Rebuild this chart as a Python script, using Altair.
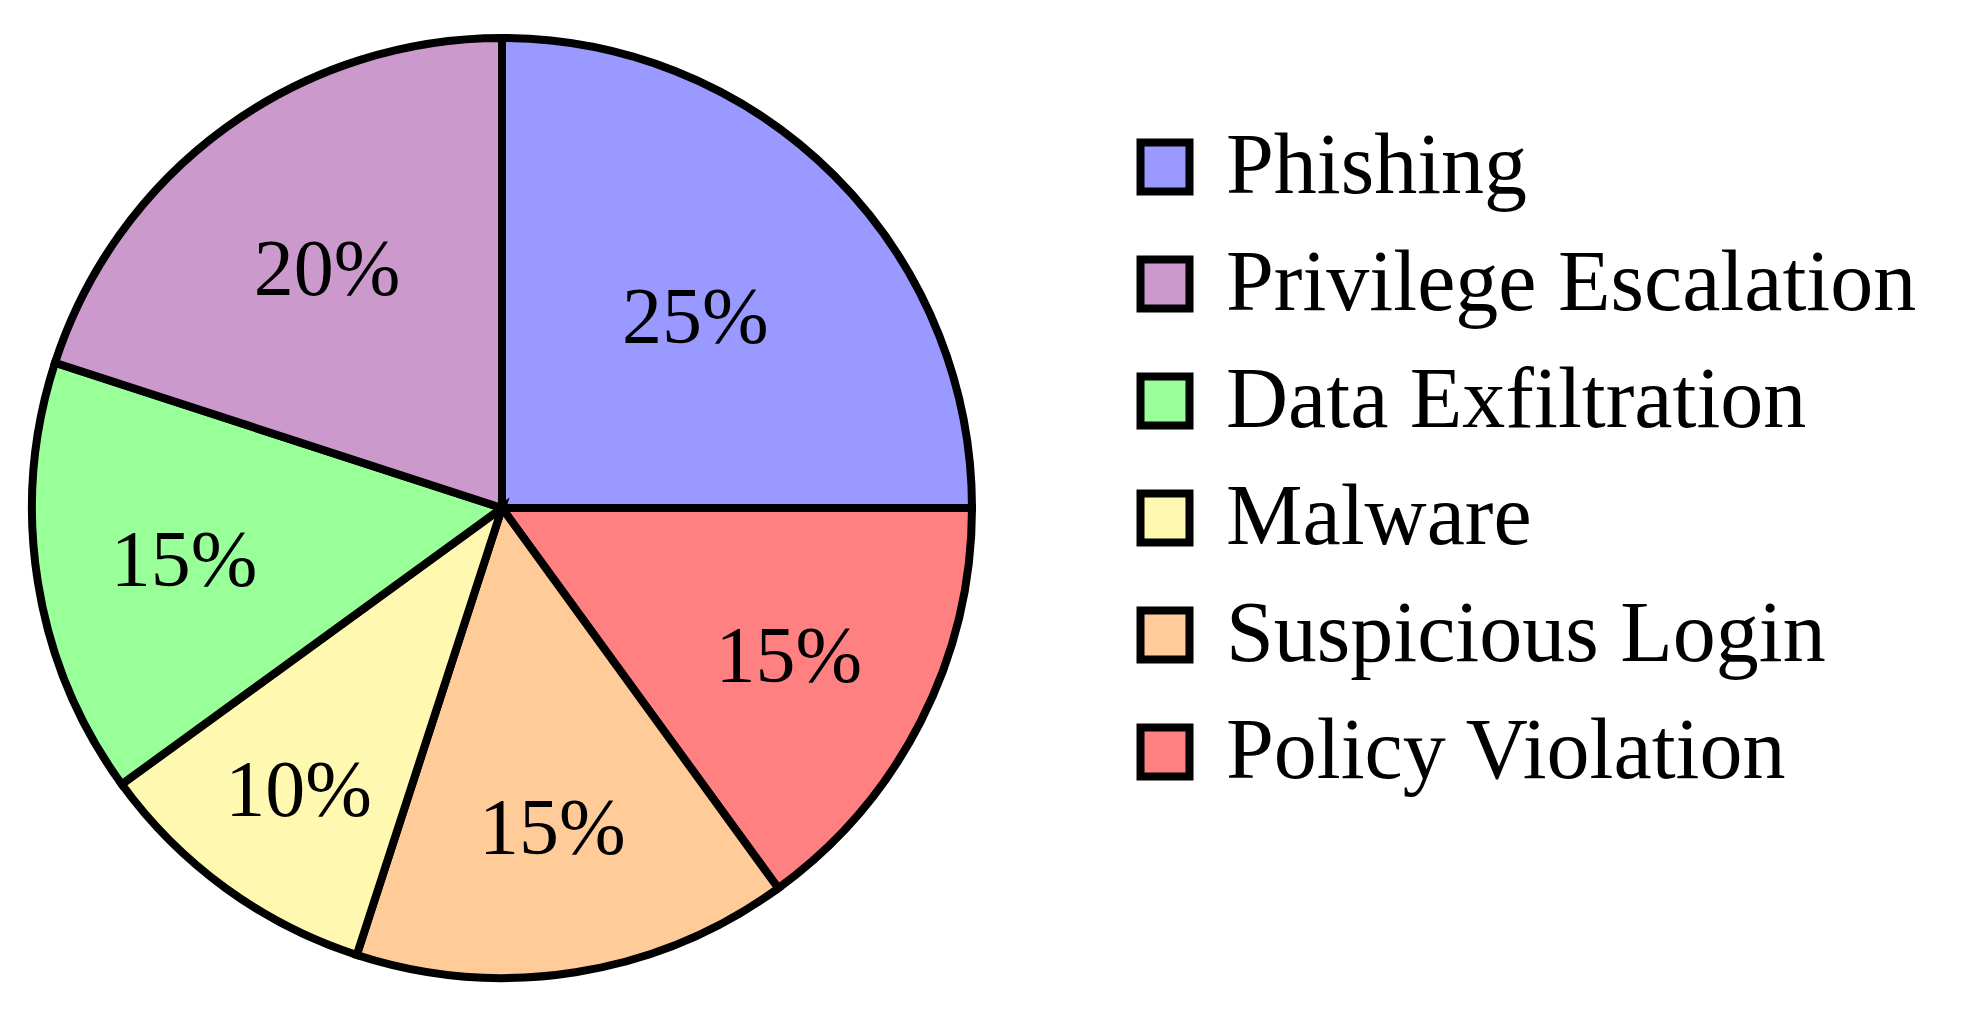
import altair as alt
import pandas as pd

categories = ["Phishing", "Policy Violation", "Suspicious Login", "Malware",
              "Data Exfiltration", "Privilege Escalation"]
values = [25, 15, 15, 10, 15, 20]
legend_order = ["Phishing", "Privilege Escalation", "Data Exfiltration",
                "Malware", "Suspicious Login", "Policy Violation"]
legend_colors = ["#9999ff", "#cc99cc", "#99ff99", "#fff8b0", "#ffcc99", "#ff8080"]

df = pd.DataFrame({
    "category": categories,
    "value": values,
    "order": list(range(len(categories))),
    "label": [f"{v}%" for v in values],
})

CX, CY, R = 494, 500, 470
FONT = "Liberation Serif"

arcs = alt.Chart(df).mark_arc(
    outerRadius=R, stroke="black", strokeWidth=8, strokeJoin="miter"
).encode(
    theta=alt.Theta("value:Q", stack=True),
    order=alt.Order("order:Q"),
    x=alt.value(CX),
    y=alt.value(CY),
    color=alt.Color(
        "category:N",
        scale=alt.Scale(domain=legend_order, range=legend_colors),
        sort=legend_order,
        legend=alt.Legend(
            title=None,
            orient="none",
            legendX=1114,
            legendY=116,
            symbolType="square",
            symbolSize=2400,
            symbolStrokeColor="black",
            symbolStrokeWidth=8,
            symbolOpacity=1,
            labelFont=FONT,
            labelFontSize=86,
            labelColor="black",
            labelOffset=18,
            labelLimit=0,
            rowPadding=31,
            padding=0,
        ),
    ),
)

# label at the middle angle of each slice; smaller slices carry their
# label further out, as in the reference
texts = alt.Chart(df).transform_joinaggregate(
    total="sum(value)"
).transform_window(
    cum="sum(value)", sort=[alt.SortField("order")],
    frame=[None, 0]
).transform_calculate(
    mid="(datum.cum - datum.value / 2) / datum.total * 2 * PI",
    label_r="395 - 4.87 * datum.value",
).transform_calculate(
    lx=f"{CX} + datum.label_r * sin(datum.mid)",
    ly=f"{CY} - datum.label_r * cos(datum.mid)",
).mark_text(
    font=FONT, fontSize=80, color="black", align="center", baseline="middle",
    dy=4
).encode(
    x=alt.X("lx:Q", scale=None),
    y=alt.Y("ly:Q", scale=None),
    text="label:N",
)

chart = alt.layer(arcs, texts).properties(
    width=1956, height=1006, padding=0, autosize="none",
    view=alt.ViewBackground(stroke="transparent", strokeWidth=0),
).configure_view(stroke="transparent", strokeWidth=0).configure(background="white")

chart.save("out.html", embed_options={"renderer": "svg", "actions": False})
